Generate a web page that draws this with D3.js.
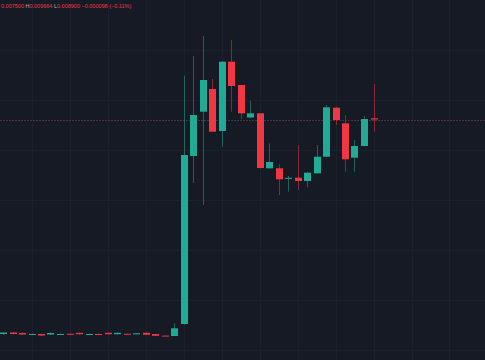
<!DOCTYPE html>
<html>
<head>
<meta charset="utf-8">
<script src="https://cdn.jsdelivr.net/npm/d3@7"></script>
<style>
  html, body { margin: 0; padding: 0; background: #161a25; }
  svg { display: block; }
</style>
</head>
<body>
<div id="chart"></div>
<script>
// candle data, one entry per bar (left to right)
const opens = [0.007660, 0.007675, 0.007670, 0.007655, 0.007660, 0.007655, 0.007658, 0.007662, 0.007672, 0.007658,
               0.007660, 0.007672, 0.007658, 0.007662, 0.007662, 0.007672, 0.007660, 0.007644, 0.007640, 0.007760,
               0.009440, 0.009883, 0.010110, 0.009690, 0.010383, 0.010150, 0.009825, 0.009867, 0.009317, 0.009317,
               0.009212, 0.009223, 0.009190, 0.009267, 0.009433, 0.009923, 0.009767, 0.009423, 0.009540, 0.009817]
const highs = [0.007675, 0.007680, 0.007675, 0.007665, 0.007665, 0.007675, 0.007665, 0.007665, 0.007675, 0.007665,
               0.007665, 0.007675, 0.007675, 0.007665, 0.007670, 0.007675, 0.007662, 0.007645, 0.007767, 0.010243,
               0.010440, 0.010640, 0.010210, 0.010390, 0.010600, 0.010150, 0.009993, 0.009870, 0.009565, 0.009357,
               0.009240, 0.009550, 0.009280, 0.009550, 0.009950, 0.009930, 0.009850, 0.009600, 0.009840, 0.010160]
const lows  = [0.007650, 0.007655, 0.007650, 0.007650, 0.007640, 0.007650, 0.007652, 0.007655, 0.007652, 0.007652,
               0.007655, 0.007655, 0.007655, 0.007658, 0.007658, 0.007650, 0.007638, 0.007640, 0.007638, 0.007755,
               0.009170, 0.008950, 0.009680, 0.009533, 0.009883, 0.009810, 0.009820, 0.009315, 0.009315, 0.009050,
               0.009083, 0.009100, 0.009127, 0.009265, 0.009430, 0.009750, 0.009283, 0.009283, 0.009535, 0.009683]
const closes = [0.007675, 0.007660, 0.007655, 0.007660, 0.007645, 0.007670, 0.007660, 0.007658, 0.007658, 0.007660,
                0.007658, 0.007658, 0.007672, 0.007660, 0.007667, 0.007652, 0.007642, 0.007642, 0.007717, 0.009450,
                0.009850, 0.010200, 0.009683, 0.010383, 0.010140, 0.009867, 0.009867, 0.009320, 0.009380, 0.009207,
                0.009222, 0.009190, 0.009273, 0.009433, 0.009927, 0.009800, 0.009407, 0.009540, 0.009810, 0.009805]

// header legend (label / value pairs)
const legendLabels = ["", "H", "L", ""]
const legendValues = ["0.007500", "0.009664", "0.008900", "\u22120.000098 (\u22120.11%)"]

const priceTicks = [0.0075, 0.0080, 0.0085, 0.0090, 0.0095, 0.0100, 0.0105]

const width = 485, height = 360
const up = "#22ab94", down = "#f23645"

const candles = opens.map((o, i) => ({i: i, o: o, h: highs[i], l: lows[i], c: closes[i]}))
const lastClose = closes[closes.length - 1]

const x = d3.scaleLinear().domain([0, candles.length - 1]).range([3, 373.5])
const y = d3.scaleLinear().domain([0.0074, 0.0110]).range([height, 0])

const svg = d3.select("#chart").append("svg")
  .attr("width", width)
  .attr("height", height)

svg.append("rect").attr("width", width).attr("height", height).attr("fill", "#161a25")

// grid
const gridX = d3.range(3, 48, 4)
svg.append("g").selectAll("line").data(gridX).join("line")
  .attr("x1", d => Math.round(x(d)) + 0.5).attr("x2", d => Math.round(x(d)) + 0.5)
  .attr("y1", 0).attr("y2", height)
  .attr("stroke", "#1c202b").attr("stroke-width", 1)

svg.append("g").selectAll("line").data(priceTicks).join("line")
  .attr("x1", 0).attr("x2", width)
  .attr("y1", d => Math.round(y(d)) + 0.5).attr("y2", d => Math.round(y(d)) + 0.5)
  .attr("stroke", "#1c202b").attr("stroke-width", 1)

// last price line
svg.append("line")
  .attr("x1", 0).attr("x2", width)
  .attr("y1", Math.round(y(lastClose)) + 0.5).attr("y2", Math.round(y(lastClose)) + 0.5)
  .attr("stroke", "#8a4a58").attr("stroke-opacity", 0.45)
  .attr("stroke-dasharray", "2,1")

// candles
const bw = 7
const g = svg.append("g")

g.selectAll("line.wick").data(candles).join("line")
  .attr("class", "wick")
  .attr("x1", d => Math.round(x(d.i)) + 0.5).attr("x2", d => Math.round(x(d.i)) + 0.5)
  .attr("y1", d => y(d.h)).attr("y2", d => y(d.l))
  .attr("stroke", d => d.c >= d.o ? up : down)
  .attr("stroke-opacity", 0.5)

g.selectAll("rect.body").data(candles).join("rect")
  .attr("class", "body")
  .attr("x", d => Math.round(x(d.i)) + 0.5 - bw / 2)
  .attr("y", d => y(Math.max(d.o, d.c)))
  .attr("width", bw)
  .attr("height", d => Math.max(1, Math.abs(y(d.o) - y(d.c))))
  .attr("fill", d => d.c >= d.o ? up : down)

// legend text at top
const txt = svg.append("text")
  .attr("x", 1).attr("y", 8)
  .style("font-family", "'Liberation Sans', Arial, sans-serif")
  .style("font-size", "5.5px")

legendLabels.forEach((lab, i) => {
  if (lab) txt.append("tspan").attr("fill", "#b2b5be").text(" " + lab)
  else if (i) txt.append("tspan").attr("fill", down).text(" ")
  txt.append("tspan").attr("fill", down).text(legendValues[i])
})
</script>
</body>
</html>
